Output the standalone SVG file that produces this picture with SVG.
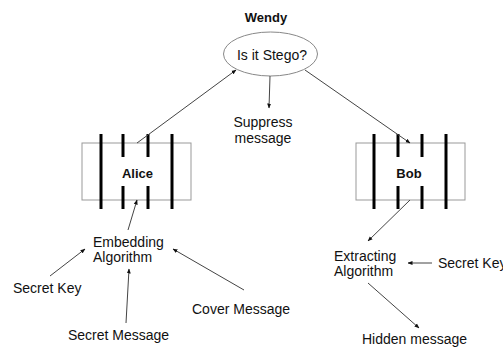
<svg xmlns="http://www.w3.org/2000/svg" width="503" height="352" viewBox="0 0 503 352">
  <style>
    .lbl { font-family: "Liberation Sans", Arial, sans-serif; font-size: 14px; fill: #111; }
    .bold { font-family: "Liberation Sans", Arial, sans-serif; font-size: 13px; font-weight: bold; fill: #111; }
    .box { fill: #fff; stroke: #999; stroke-width: 1; }
    .bar { stroke: #000; stroke-width: 3; }
    .edge { stroke: #444; stroke-width: 1; fill: none; marker-end: url(#tip); }
  </style>
  <defs>
    <marker id="tip" viewBox="0 0 10 10" refX="9" refY="5" markerWidth="5" markerHeight="5" markerUnits="userSpaceOnUse" orient="auto">
      <path d="M0,1 L10,5 L0,9 z" fill="#111"/>
    </marker>
  </defs>
  <rect width="503" height="352" fill="#fff"/>

  <!-- Wendy (warden) -->
  <g id="wendy">
    <text class="bold" x="266" y="22" text-anchor="middle">Wendy</text>
    <ellipse cx="270.5" cy="54" rx="47" ry="22" fill="#fff" stroke="#888" stroke-width="1"/>
    <text class="lbl" x="272" y="60" text-anchor="middle">Is it Stego?</text>
  </g>

  <g id="suppress">
    <text class="lbl" x="263" y="127" text-anchor="middle">Suppress</text>
    <text class="lbl" x="263" y="143" text-anchor="middle">message</text>
  </g>

  <!-- Alice -->
  <g id="alice">
    <rect class="box" x="82" y="143" width="109" height="57"/>
    <line class="bar" x1="101" y1="134" x2="101" y2="209"/>
    <line class="bar" x1="172" y1="134" x2="172" y2="209"/>
    <line class="bar" x1="123" y1="134" x2="123" y2="157"/>
    <line class="bar" x1="123" y1="186" x2="123" y2="209"/>
    <line class="bar" x1="148" y1="134" x2="148" y2="157"/>
    <line class="bar" x1="148" y1="186" x2="148" y2="209"/>
    <text class="bold" x="137.5" y="178" text-anchor="middle">Alice</text>
  </g>

  <!-- Bob -->
  <g id="bob">
    <rect class="box" x="356" y="143" width="109" height="57"/>
    <line class="bar" x1="374" y1="134" x2="374" y2="209"/>
    <line class="bar" x1="446" y1="134" x2="446" y2="209"/>
    <line class="bar" x1="398" y1="134" x2="398" y2="157"/>
    <line class="bar" x1="398" y1="186" x2="398" y2="209"/>
    <line class="bar" x1="422" y1="134" x2="422" y2="157"/>
    <line class="bar" x1="422" y1="186" x2="422" y2="209"/>
    <text class="bold" x="409" y="178" text-anchor="middle">Bob</text>
  </g>

  <g id="embedding">
    <text class="lbl" x="93" y="247">Embedding</text>
    <text class="lbl" x="93" y="262">Algorithm</text>
  </g>
  <g id="secret-key-left">
    <text class="lbl" x="13" y="293">Secret Key</text>
  </g>
  <g id="secret-message">
    <text class="lbl" x="68" y="340">Secret Message</text>
  </g>
  <g id="cover-message">
    <text class="lbl" x="192" y="314">Cover Message</text>
  </g>

  <g id="extracting">
    <text class="lbl" x="334" y="261">Extracting</text>
    <text class="lbl" x="334" y="276">Algorithm</text>
  </g>
  <g id="secret-key-right">
    <text class="lbl" x="438" y="268">Secret Key</text>
  </g>
  <g id="hidden-message">
    <text class="lbl" x="362" y="344">Hidden message</text>
  </g>

  <!-- connectors -->
  <g id="connectors">
    <line class="edge" x1="137" y1="143" x2="236" y2="70"/>
    <line class="edge" x1="270" y1="76" x2="269" y2="108"/>
    <line class="edge" x1="305" y1="70" x2="410" y2="143"/>
    <line class="edge" x1="128" y1="230" x2="137" y2="200"/>
    <line class="edge" x1="410" y1="200" x2="368" y2="241"/>
    <line class="edge" x1="50" y1="276" x2="85" y2="249"/>
    <line class="edge" x1="126" y1="323" x2="129" y2="269"/>
    <line class="edge" x1="244" y1="290" x2="173" y2="249"/>
    <line class="edge" x1="432" y1="263" x2="408" y2="263"/>
    <line class="edge" x1="368" y1="283" x2="419" y2="328"/>
  </g>
</svg>
